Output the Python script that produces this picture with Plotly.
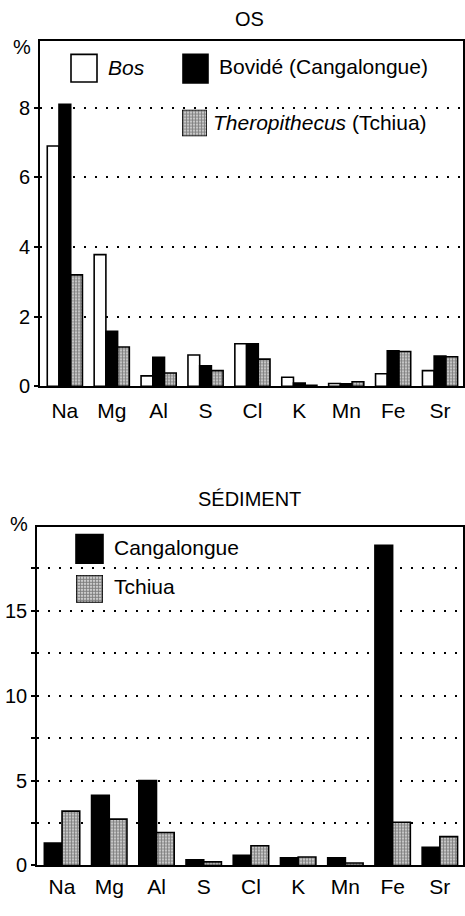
import plotly.graph_objects as go

elements = ["Na", "Mg", "Al", "S", "Cl", "K", "Mn", "Fe", "Sr"]

# OS (bone) composition, %
os_bos = [6.9, 3.78, 0.3, 0.9, 1.22, 0.26, 0.08, 0.36, 0.45]
os_bovide = [8.1, 1.58, 0.83, 0.59, 1.22, 0.09, 0.07, 1.02, 0.87]
os_thero = [3.2, 1.13, 0.38, 0.45, 0.78, 0.03, 0.13, 1.0, 0.85]

# SÉDIMENT composition, %
sed_cang = [1.32, 4.13, 5.0, 0.33, 0.6, 0.45, 0.45, 18.84, 1.07]
sed_tchiua = [3.2, 2.73, 1.94, 0.21, 1.16, 0.5, 0.15, 2.54, 1.7]

os_ticks = [0, 2, 4, 6, 8]
sed_ticks = [0, 5, 10, 15]

FONT = "Liberation Sans, Arial, Helvetica, sans-serif"
W, H = 465, 916

def px(x):
    return x / W

def py(y):
    return 1 - y / H

stipple = dict(shape=".", fgcolor="black", bgcolor="white", size=3, solidity=0.7)
outline = dict(color="black", width=1.6)

fig = go.Figure()

# top chart
fig.add_trace(go.Bar(x=elements, y=os_bos, name="Bos", xaxis="x", yaxis="y",
                     marker=dict(color="white", line=outline)))
fig.add_trace(go.Bar(x=elements, y=os_bovide, name="Bovidé (Cangalongue)", xaxis="x", yaxis="y",
                     marker=dict(color="black", line=outline)))
fig.add_trace(go.Bar(x=elements, y=os_thero, name="Theropithecus (Tchiua)", xaxis="x", yaxis="y",
                     marker=dict(color="white", pattern=stipple, line=outline)))

# bottom chart
fig.add_trace(go.Bar(x=elements, y=sed_cang, name="Cangalongue", xaxis="x2", yaxis="y2",
                     marker=dict(color="black", line=outline)))
fig.add_trace(go.Bar(x=elements, y=sed_tchiua, name="Tchiua", xaxis="x2", yaxis="y2",
                     marker=dict(color="white", pattern=stipple, line=outline)))

# patterned legend swatches (drawn as single bars on tiny axes)
for xa, ya in (("x3", "y3"), ("x4", "y4")):
    fig.add_trace(go.Bar(x=[0], y=[1], width=[1], xaxis=xa, yaxis=ya, showlegend=False,
                         hoverinfo="skip",
                         marker=dict(color="white", pattern=stipple, line=outline)))

grid_common = dict(showgrid=True, gridcolor="black", gridwidth=1.8, griddash="2px,9px")
axis_line = dict(showline=True, linecolor="black", linewidth=1.6, mirror=True)
tickfont = dict(family=FONT, size=20, color="black")
catfont = dict(family=FONT, size=21, color="black")

fig.update_layout(
    width=W, height=H,
    margin=dict(l=0, r=0, t=0, b=0),
    paper_bgcolor="white", plot_bgcolor="white",
    showlegend=False,
    barmode="group", bargap=0.25, bargroupgap=0,
    font=dict(family=FONT, color="black"),
    xaxis=dict(domain=[px(40), px(463)], anchor="y", range=[-0.53, 8.49],
               showgrid=False, ticks="", tickfont=catfont,
               ticklabelstandoff=5, **axis_line),
    yaxis=dict(domain=[py(391), py(42)], anchor="x", range=[0, 9.9],
               tickvals=os_ticks, ticks="outside", ticklen=4, tickwidth=1.5, tickcolor="black",
               tickfont=tickfont, zeroline=False, **grid_common, **axis_line),
    xaxis2=dict(domain=[px(37), px(463)], anchor="y2", range=[-0.53, 8.49],
                showgrid=False, ticks="", tickfont=catfont,
                ticklabelstandoff=2, **axis_line),
    yaxis2=dict(domain=[py(876), py(533)], anchor="x2", range=[0, 19.94],
                tickvals=sed_ticks, ticks="outside", ticklen=4, tickwidth=1.5, tickcolor="black",
                tickfont=tickfont, zeroline=False,
                minor=dict(dtick=2.5, tick0=0, showgrid=True, gridcolor="black", gridwidth=1.8,
                           griddash="2px,9px", ticks="outside", ticklen=4, tickcolor="black"),
                **grid_common, **axis_line),
    xaxis3=dict(domain=[px(182), px(207)], anchor="y3", range=[-0.5, 0.5], visible=False, fixedrange=True),
    yaxis3=dict(domain=[py(138), py(111)], anchor="x3", range=[0, 1], visible=False, fixedrange=True),
    xaxis4=dict(domain=[px(76), px(103)], anchor="y4", range=[-0.5, 0.5], visible=False, fixedrange=True),
    yaxis4=dict(domain=[py(610), py(582)], anchor="x4", range=[0, 1], visible=False, fixedrange=True),
)

# solid legend swatches
for (x0, y0, x1, y1, fill) in [
    (71, 55, 97, 83, "white"),
    (183, 55, 208, 84, "black"),
    (76, 541, 103, 570, "black"),
]:
    fig.add_shape(type="rect", xref="paper", yref="paper",
                  x0=px(x0), x1=px(x1), y0=py(y1), y1=py(y0),
                  fillcolor=fill, line=dict(color="black", width=1.6))

def ann(text, x, y, size=21, xanchor="left"):
    fig.add_annotation(text=text, xref="paper", yref="paper", x=px(x), y=py(y),
                       xanchor=xanchor, yanchor="middle", showarrow=False,
                       font=dict(family=FONT, size=size, color="black"))

ann("OS", 250, 19, size=20, xanchor="center")
ann("SÉDIMENT", 249, 505, size=20, xanchor="center")
ann("%", 22, 48, size=20, xanchor="center")
ann("%", 19, 530, size=20, xanchor="center")
ann("<i>Bos</i>", 106, 68)
ann("Bovidé (Cangalongue)", 217, 67)
ann("<i>Theropithecus</i> (Tchiua)", 211, 124)
ann("Cangalongue", 112, 554)
ann("Tchiua", 112, 594)

fig.write_html("out.html")
